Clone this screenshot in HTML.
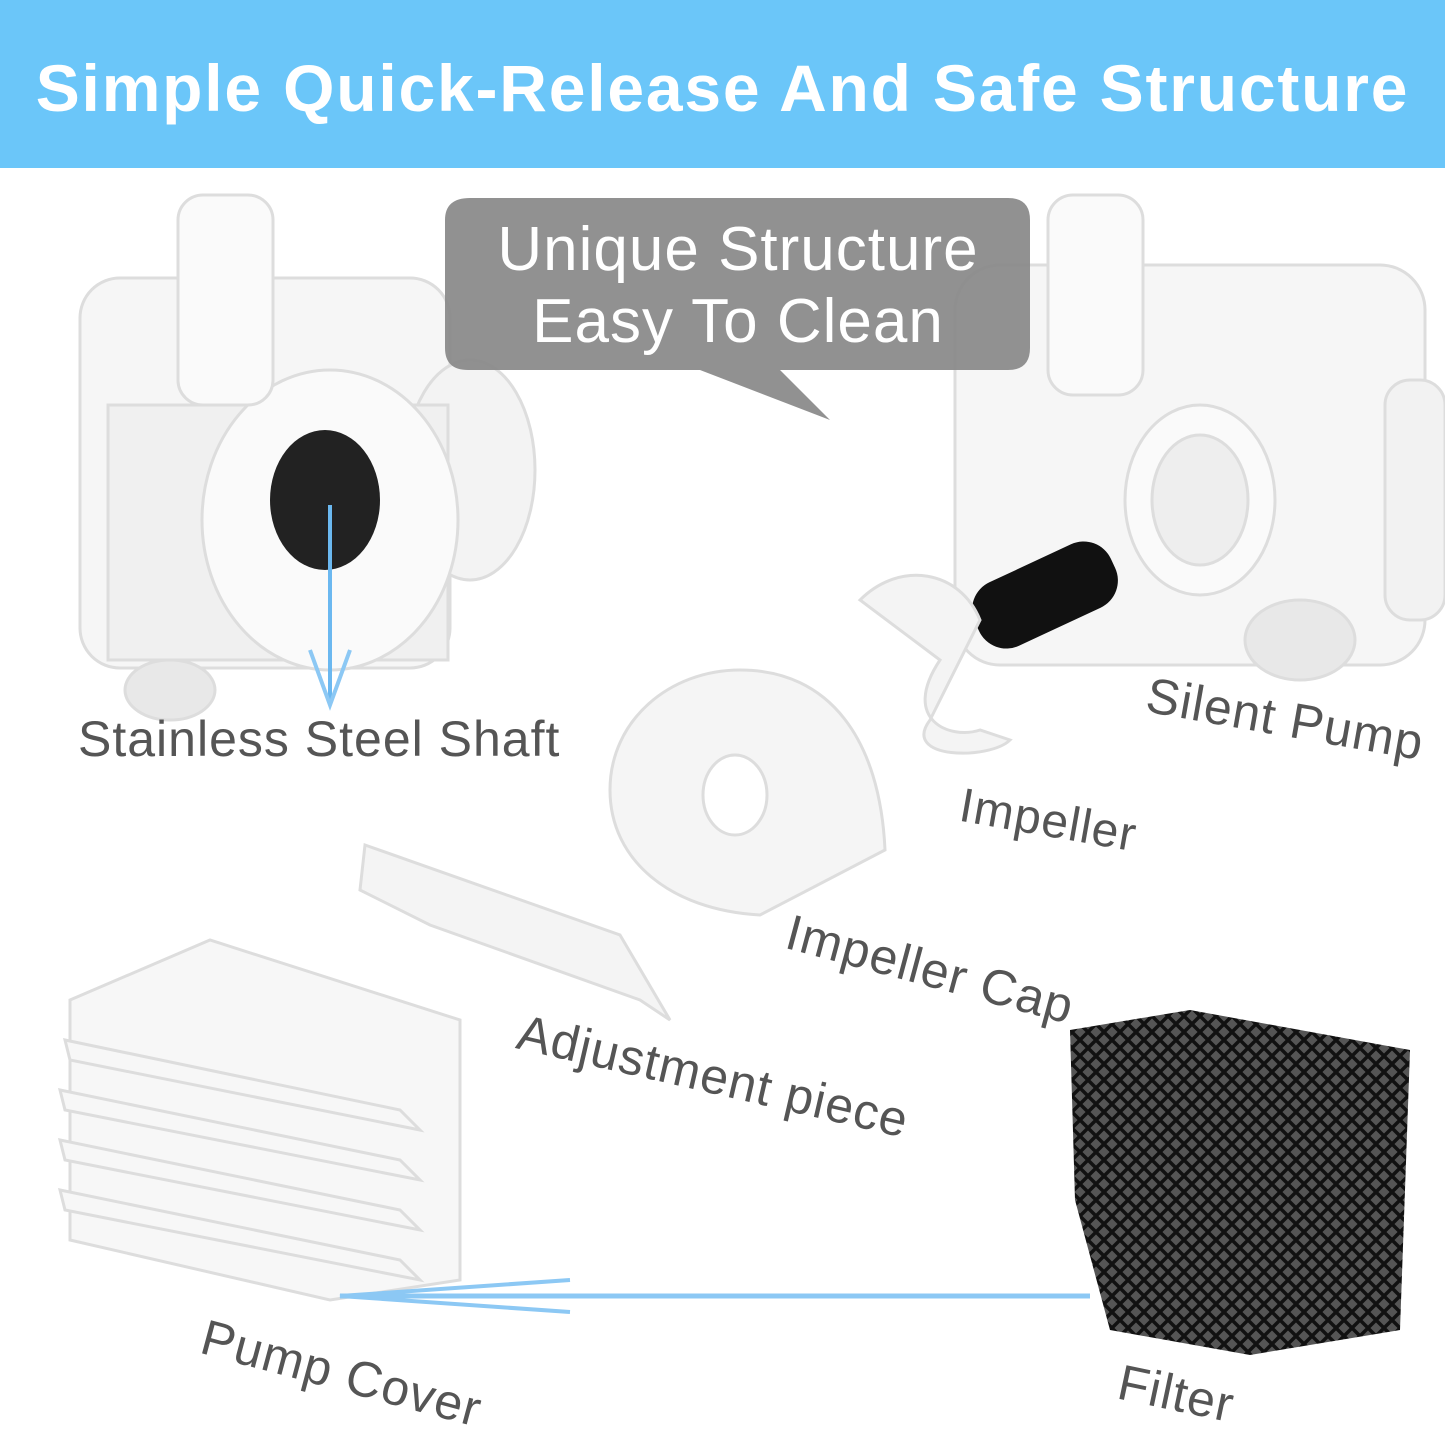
<!DOCTYPE html>
<html><head><style>
body{margin:0;width:1445px;height:1445px;background:#fff;position:relative;overflow:hidden;font-family:"Liberation Sans",sans-serif}
.hdr{position:absolute;left:0;top:0;width:1445px;height:168px;background:#6bc6f9;color:#fff;font-weight:bold;font-size:66px;text-align:center;line-height:176px;letter-spacing:1.8px}
.lbl{position:absolute;color:#555;font-size:50px;white-space:nowrap;transform-origin:left top;letter-spacing:1px}
</style></head><body>
<svg width="1445" height="1445" style="position:absolute;left:0;top:0">
<defs>
<pattern id="foam" width="16" height="16" patternUnits="userSpaceOnUse">
<rect width="16" height="16" fill="#555"/><path d="M0 8L8 0L16 8L8 16Z" fill="none" stroke="#111" stroke-width="3.5"/>
</pattern>
</defs>
<g stroke="#ddd" stroke-width="3">
<rect x="80" y="278" width="370" height="390" rx="40" fill="#f6f6f6"/>
<ellipse cx="470" cy="470" rx="65" ry="110" fill="#f3f3f3"/>
<rect x="108" y="405" width="340" height="255" fill="#f0f0f0"/>
<ellipse cx="330" cy="520" rx="128" ry="150" fill="#fafafa"/>
<ellipse cx="325" cy="500" rx="55" ry="70" fill="#222" stroke="none"/>
<rect x="178" y="195" width="95" height="210" rx="25" fill="#fafafa"/>
<ellipse cx="170" cy="690" rx="45" ry="30" fill="#e8e8e8"/>
</g>
<line x1="330" y1="505" x2="330" y2="700" stroke="#6bb8f0" stroke-width="4"/>
<path d="M310 650L330 705L350 650" fill="none" stroke="#8cc8f4" stroke-width="4"/>
<g stroke="#ddd" stroke-width="3">
<rect x="955" y="265" width="470" height="400" rx="45" fill="#f6f6f6"/>
<rect x="1385" y="380" width="60" height="240" rx="25" fill="#f2f2f2"/>
<ellipse cx="1300" cy="640" rx="55" ry="40" fill="#e8e8e8"/>
<ellipse cx="1200" cy="500" rx="75" ry="95" fill="#fafafa"/>
<ellipse cx="1200" cy="500" rx="48" ry="65" fill="#eee"/>
<rect x="1048" y="195" width="95" height="200" rx="25" fill="#fafafa"/>
</g>
<rect x="970" y="560" width="150" height="70" rx="30" transform="rotate(-25 1045 595)" fill="#111"/>
<path d="M860 600C900 560 960 570 980 620L930 720C900 760 990 760 1010 740L980 730C950 740 900 720 940 660Z" fill="#f4f4f4" stroke="#ddd" stroke-width="3"/>
<path d="M470 198H1008Q1030 198 1030 220V348Q1030 370 1008 370H780L830 420L700 370H468Q445 370 445 348V220Q445 198 470 198Z" fill="#888" fill-opacity="0.92"/>
<text x="738" y="270" font-size="62" fill="#fff" text-anchor="middle" font-family="Liberation Sans" letter-spacing="1">Unique Structure</text>
<text x="738" y="342" font-size="62" fill="#fff" text-anchor="middle" font-family="Liberation Sans" letter-spacing="1">Easy To Clean</text>
<path d="M740 670C830 670 880 740 885 850L760 915C670 910 610 860 610 790C610 720 670 670 740 670Z" fill="#f5f5f5" stroke="#ddd" stroke-width="3"/>
<ellipse cx="735" cy="795" rx="32" ry="40" fill="#fff" stroke="#ddd" stroke-width="3"/>
<path d="M365 845L620 935L670 1020L640 1000L430 925L360 890Z" fill="#f4f4f4" stroke="#ddd" stroke-width="3"/>
<g fill="#f7f7f7" stroke="#ddd" stroke-width="3">
<path d="M70 1000L210 940L460 1020V1280L330 1300L70 1240Z"/>
<path d="M65 1040L400 1110L420 1130L70 1060Z"/>
<path d="M60 1090L400 1160L420 1180L65 1110Z"/>
<path d="M60 1140L400 1210L420 1230L65 1160Z"/>
<path d="M60 1190L400 1260L420 1280L65 1210Z"/>
</g>
<path d="M1070 1030L1190 1010L1410 1050L1400 1330L1250 1355L1110 1330L1075 1200Z" fill="url(#foam)"/>
<line x1="340" y1="1296" x2="1090" y2="1296" stroke="#8cc8f4" stroke-width="5"/>
<path d="M570 1280L340 1296L570 1312" fill="none" stroke="#8cc8f4" stroke-width="4"/>
</svg>
<div class="hdr">Simple Quick-Release And Safe Structure</div>
<div class="lbl" style="left:78px;top:710px">Stainless Steel Shaft</div>
<div class="lbl" style="left:1152px;top:666px;transform:rotate(10deg)">Silent Pump</div>
<div class="lbl" style="left:965px;top:778px;transform:rotate(10deg);font-size:48px">Impeller</div>
<div class="lbl" style="left:795px;top:903px;transform:rotate(15deg)">Impeller Cap</div>
<div class="lbl" style="left:525px;top:1003px;transform:rotate(13deg)">Adjustment piece</div>
<div class="lbl" style="left:210px;top:1308px;transform:rotate(15deg)">Pump Cover</div>
<div class="lbl" style="left:1125px;top:1353px;transform:rotate(12deg)">Filter</div>
</body></html>
